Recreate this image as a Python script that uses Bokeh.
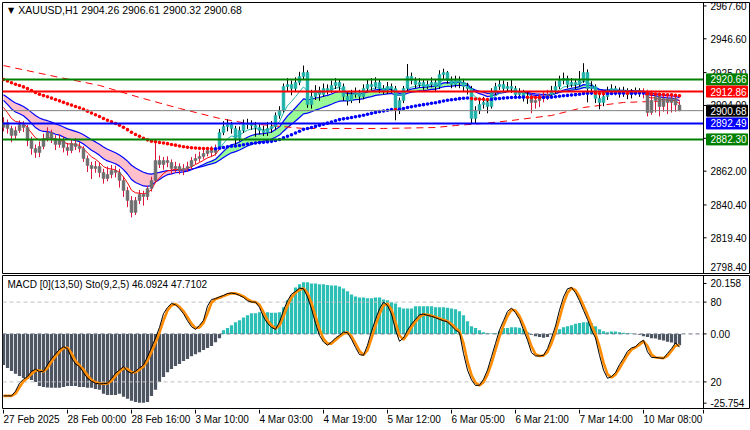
from bokeh.plotting import figure
from bokeh.models import Range1d, Span, ColumnDataSource
from bokeh.core.properties import value
from bokeh.layouts import column
from bokeh.embed import file_html
from bokeh.resources import INLINE

SYMBOL = "XAUUSD,H1"
OPEN_FIRST = 2890.0
CLOSE = [
    2893.1, 2889.3, 2884.8, 2888.0, 2891.8, 2889.9, 2881.6, 2876.5, 2873.9, 2877.8,
    2882.9, 2886.7, 2882.9, 2879.1, 2881.6, 2877.1, 2875.2, 2879.7, 2877.8, 2876.5,
    2870.1, 2865.6, 2863.7, 2865.0, 2861.2, 2857.3, 2859.9, 2862.4, 2861.2, 2856.1,
    2849.7, 2843.3, 2835.6, 2843.3, 2847.1, 2845.8, 2850.9, 2856.1, 2868.8, 2866.3,
    2868.8, 2867.6, 2863.7, 2865.0, 2862.4, 2863.7, 2865.0, 2868.8, 2870.1, 2871.4,
    2873.3, 2875.2, 2873.9, 2876.5, 2886.7, 2890.6, 2891.8, 2889.3, 2882.9, 2888.0,
    2891.8, 2892.5, 2891.2, 2889.9, 2888.0, 2886.7, 2889.3, 2890.6, 2897.6, 2900.8,
    2916.1, 2917.4, 2914.8, 2918.7, 2922.5, 2925.1, 2904.6, 2909.7, 2913.6, 2911.0,
    2914.8, 2913.6, 2916.8, 2918.7, 2916.1, 2909.7, 2907.2, 2911.0, 2912.3, 2909.7,
    2914.8, 2917.4, 2916.1, 2918.7, 2914.8, 2913.6, 2916.1, 2914.8, 2900.8, 2907.2,
    2914.8, 2922.5, 2920.0, 2917.4, 2918.7, 2916.1, 2917.4, 2918.7, 2916.1, 2923.8,
    2925.1, 2920.0, 2917.4, 2920.0, 2918.7, 2916.1, 2914.8, 2895.7, 2900.8, 2904.6,
    2905.9, 2903.3, 2912.3, 2916.1, 2917.4, 2914.8, 2916.1, 2914.8, 2911.0, 2912.3,
    2909.7, 2908.5, 2905.9, 2907.2, 2908.5, 2909.7, 2911.0, 2913.6, 2916.1, 2920.0,
    2921.2, 2917.4, 2918.7, 2917.4, 2920.0, 2925.1, 2914.8, 2916.1, 2908.5, 2905.9,
    2909.7, 2913.6, 2914.8, 2913.6, 2912.3, 2913.6, 2911.0, 2912.3, 2913.6, 2912.3,
    2912.3, 2899.5, 2907.2, 2909.7, 2903.3, 2908.5, 2905.9, 2908.5, 2904.26, 2900.68,
]
HIGH = [
    2896.5, 2895.0, 2891.0, 2890.5, 2894.5, 2894.0, 2891.5, 2884.0, 2879.0, 2881.0,
    2886.0, 2890.0, 2888.5, 2885.0, 2885.5, 2884.0, 2880.0, 2882.5, 2883.0, 2880.5,
    2878.0, 2872.0, 2868.0, 2868.5, 2867.5, 2863.5, 2865.0, 2866.0, 2865.5, 2863.5,
    2858.5, 2852.0, 2846.0, 2845.5, 2850.0, 2849.5, 2852.5, 2858.5, 2880.0, 2872.0,
    2871.0, 2871.5, 2869.5, 2868.0, 2867.0, 2866.5, 2868.0, 2871.0, 2873.0, 2874.5,
    2876.0, 2877.5, 2878.0, 2879.0, 2889.0, 2894.0, 2895.0, 2893.5, 2891.0, 2890.5,
    2895.0, 2895.5, 2894.5, 2893.5, 2892.0, 2891.0, 2893.5, 2894.0, 2899.5, 2903.5,
    2918.0, 2921.5, 2920.0, 2922.0, 2925.5, 2929.5, 2926.5, 2914.0, 2917.0, 2916.0,
    2918.0, 2917.5, 2920.0, 2921.5, 2920.5, 2918.0, 2912.5, 2914.0, 2915.5, 2914.0,
    2917.5, 2920.5, 2921.5, 2922.0, 2920.5, 2917.0, 2919.0, 2918.0, 2916.5, 2909.0,
    2916.5, 2930.5, 2925.0, 2922.0, 2921.5, 2920.5, 2920.0, 2922.0, 2921.0, 2926.5,
    2927.5, 2926.0, 2922.5, 2923.0, 2922.5, 2921.0, 2918.5, 2916.5, 2903.5, 2907.5,
    2909.5, 2908.5, 2915.0, 2918.5, 2920.5, 2920.0, 2919.0, 2920.5, 2916.5, 2915.0,
    2914.0, 2912.5, 2911.0, 2910.0, 2911.5, 2912.5, 2914.0, 2916.5, 2919.5, 2923.0,
    2925.0, 2923.0, 2921.5, 2921.0, 2926.0, 2931.0, 2927.0, 2919.5, 2917.5, 2911.0,
    2912.5, 2916.0, 2917.5, 2916.5, 2915.5, 2916.0, 2915.0, 2914.5, 2915.5, 2915.0,
    2915.0, 2914.0, 2913.5, 2912.0, 2911.0, 2911.5, 2910.5, 2910.5, 2910.5, 2906.61,
]
LOW = [
    2887.5, 2886.0, 2880.5, 2882.0, 2886.5, 2887.0, 2878.0, 2872.5, 2870.5, 2871.0,
    2876.0, 2881.0, 2880.0, 2875.5, 2877.0, 2874.0, 2872.0, 2873.5, 2875.5, 2874.0,
    2868.0, 2861.5, 2857.0, 2861.0, 2858.0, 2854.0, 2855.5, 2857.5, 2858.0, 2851.5,
    2845.5, 2839.0, 2832.5, 2834.0, 2841.0, 2840.0, 2843.5, 2849.0, 2855.0, 2864.0,
    2863.0, 2864.5, 2860.0, 2861.0, 2860.0, 2859.5, 2861.5, 2863.0, 2866.5, 2868.0,
    2869.5, 2871.5, 2871.0, 2872.0, 2875.5, 2885.0, 2887.5, 2886.0, 2878.5, 2881.0,
    2886.5, 2889.0, 2888.5, 2884.0, 2885.5, 2884.5, 2884.5, 2886.5, 2888.5, 2895.5,
    2899.5, 2913.0, 2910.5, 2912.5, 2917.0, 2920.5, 2902.5, 2902.0, 2907.5, 2907.0,
    2909.5, 2911.0, 2912.0, 2914.5, 2913.5, 2907.0, 2904.0, 2905.5, 2909.0, 2905.5,
    2908.0, 2912.5, 2913.5, 2914.5, 2912.0, 2911.0, 2911.5, 2912.0, 2894.5, 2898.5,
    2905.5, 2913.5, 2917.5, 2915.0, 2915.5, 2914.0, 2914.5, 2915.5, 2913.0, 2914.5,
    2921.0, 2918.0, 2915.0, 2915.5, 2915.0, 2912.5, 2911.0, 2892.0, 2892.5, 2898.5,
    2902.0, 2899.0, 2902.0, 2910.5, 2914.0, 2912.5, 2913.0, 2912.0, 2908.5, 2909.0,
    2906.5, 2905.0, 2899.0, 2902.0, 2903.0, 2906.0, 2907.5, 2909.5, 2911.5, 2914.5,
    2917.5, 2915.0, 2915.5, 2914.5, 2916.0, 2918.5, 2906.0, 2911.0, 2905.5, 2901.5,
    2903.5, 2907.5, 2911.0, 2910.5, 2909.0, 2909.5, 2908.0, 2908.5, 2910.5, 2909.5,
    2908.5, 2897.0, 2898.0, 2899.5, 2897.0, 2900.0, 2898.5, 2899.5, 2900.0, 2900.32,
]
# trend colouring of candles (bar index where a trend starts)
TREND_SEGMENTS = [(0, "down"), (54, "up"), (132, "down"), (137, "up"), (160, "down")]

# indicator settings and their values read at the first bar
BAND_FAST_PERIOD, BAND_FAST_START = 13, 2907.2
BAND_SLOW_PERIOD, BAND_SLOW_START = 24, 2910.8
THIN_PERIOD, THIN_START = 7, 2902.7
DOTS_PERIOD, DOTS_START = 62, 2920.6

# long dashed moving average (bar, price)
LONG_MA_BARS = [0, 14, 24, 34, 44, 54, 61, 75, 95, 108, 113, 120, 127, 137, 145, 155, 169]
LONG_MA_VALUES = [2929.5, 2921.9, 2916.8, 2909.1, 2902.1, 2895.7, 2892.5, 2889.3, 2889.3,
                  2889.9, 2891.2, 2892.5, 2894.4, 2897.6, 2902.7, 2905.9, 2907.2]

LEVELS = [2920.66, 2912.86, 2892.49, 2882.30]
LEVEL_COLORS = ["#008000", "#FF0000", "#0000FF", "#008000"]
BID = 2900.68
PRICE_TICKS = [2967.6, 2946.6, 2925.0, 2904.0, 2883.0, 2862.0, 2840.4, 2819.4]
PRICE_TICK_BOTTOM = 2798.4

MACD_HIST = [
    -10.7, -11.8, -12.8, -13.8, -14.5, -15.2, -15.6, -15.9, -16.6, -18.0,
    -18.3, -18.5, -18.6, -18.6, -18.6, -18.3, -18.0, -18.0, -18.0, -18.3,
    -18.3, -18.6, -18.6, -19.0, -19.3, -20.7, -21.1, -21.1, -21.1, -20.7,
    -21.7, -22.4, -23.1, -23.5, -23.8, -23.8, -23.5, -21.4, -19.3, -16.6,
    -14.9, -13.2, -12.1, -11.1, -10.4, -9.4, -8.7, -7.7, -7.0, -6.3,
    -5.6, -4.9, -4.2, -2.9, -1.5, 1.3, 2.0, 3.0, 4.0, 4.7,
    5.7, 6.4, 7.1, 7.1, 7.5, 7.1, 7.5, 7.3, 7.3, 7.5,
    9.2, 11.6, 13.3, 16.0, 17.1, 17.8, 17.8, 17.4, 17.4, 17.1,
    17.1, 16.9, 16.7, 16.7, 16.4, 15.7, 14.7, 13.6, 12.9, 12.6,
    12.6, 12.3, 12.3, 12.6, 12.6, 11.9, 11.6, 10.9, 10.5, 9.2,
    8.8, 8.8, 8.8, 9.5, 9.5, 9.5, 9.5, 9.5, 9.2, 9.2,
    9.2, 9.0, 8.8, 8.5, 7.8, 6.4, 4.4, 2.6, 2.0, 1.3,
    0.6, 0.2, 0.1, 0.2, 0.9, 2.0, 2.0, 2.3, 2.3, 2.1,
    1.6, 0.6, -0.3, -0.8, -1.1, -1.3, -1.1, -0.1, 0.9, 1.6,
    2.3, 2.6, 3.0, 3.5, 3.8, 4.0, 4.0, 3.7, 2.6, 1.6,
    0.9, 0.6, 0.8, 0.8, 0.6, 0.4, 0.2, 0.1, -0.1, -0.3,
    -0.8, -1.1, -1.5, -1.6, -2.0, -2.3, -2.7, -3.0, -3.5, -3.9,
]
MACD_MAX, MACD_MIN = 20.158, -25.754
STOCH_MAIN = [
    9.5, 9.5, 9.5, 13, 19, 22, 24, 28, 29.5, 27.7,
    28, 33, 37.5, 41, 44.5, 46.4, 45, 38, 33.5, 31.5,
    27, 22.7, 20.5, 19, 18.5, 18.7, 19, 22.5, 26.5, 29,
    31.5, 28, 26.5, 28, 30.5, 32.7, 39, 46, 53, 61,
    71.3, 76, 79, 78, 75, 71.3, 66, 61.5, 59.5, 62.5,
    66.3, 77, 82, 82.6, 84, 85, 86.5, 86.8, 86.3, 85,
    83.5, 81, 80, 80, 76, 68.8, 64, 61, 59.5, 65,
    73.8, 81, 86, 88, 90.5, 90, 83.8, 75, 64, 55,
    50, 47.6, 50, 53, 55, 57.5, 57, 52, 46, 40.5,
    40, 47.6, 58, 67, 75, 80, 77.5, 71, 59, 50.5,
    53, 58.9, 63.5, 67, 70.5, 71, 70, 69.3, 68.3, 67,
    66, 65.1, 62, 59, 57, 41.4, 28.9, 21.5, 17.3, 17.5,
    22, 28.9, 39, 49, 59, 66, 73, 75.5, 72, 67,
    59, 51.4, 42, 39.5, 39.5, 40, 45, 53, 62, 74,
    83.8, 90, 91, 87, 81, 73.8, 67, 59, 53, 40,
    28.9, 22.7, 24, 27, 33, 37.7, 43, 45.5, 46.5, 49.5,
    51.4, 42.6, 38.4, 38.4, 38, 37.7, 41.4, 45, 49.328, 46.0924,
]
STOCH_SIGNAL_PERIOD = 2
STOCH_LEVELS = [80, 20]
X_TICK_BARS = [0, 16, 32, 48, 64, 80, 96, 112, 128, 144, 160]
X_TICK_LABELS = ["27 Feb 2025", "28 Feb 00:00", "28 Feb 16:00", "3 Mar 10:00", "4 Mar 03:00",
                 "4 Mar 19:00", "5 Mar 12:00", "6 Mar 05:00", "6 Mar 21:00", "7 Mar 14:00",
                 "10 Mar 08:00"]

# ---------------------------------------------------------------- derived
N = len(CLOSE)
X = list(range(N))
OPEN = [OPEN_FIRST] + CLOSE[:-1]


def ema(vals, period, start):
    a = 2.0 / (period + 1)
    out = [start]
    for v in vals[1:]:
        out.append(out[-1] + a * (v - out[-1]))
    return out


def runs(flags):
    out, s = [], 0
    for i in range(1, len(flags) + 1):
        if i == len(flags) or flags[i] != flags[s]:
            out.append((s, i - 1, flags[s]))
            s = i
    return out


trend = []
for i in range(N):
    t = None
    for start, name in TREND_SEGMENTS:
        if i >= start:
            t = name
    trend.append(t)
tr_up = [t == "up" for t in trend]

fast = ema(CLOSE, BAND_FAST_PERIOD, BAND_FAST_START)
slow = ema(CLOSE, BAND_SLOW_PERIOD, BAND_SLOW_START)
thin = ema(CLOSE, THIN_PERIOD, THIN_START)
dots = ema(CLOSE, DOTS_PERIOD, DOTS_START)
signal = []
for i in range(N):
    win = STOCH_MAIN[max(0, i - STOCH_SIGNAL_PERIOD + 1):i + 1]
    signal.append(sum(win) / len(win))

FONT = value("Liberation Sans")
FS = value("10px")
# bar pitch is 4 px; bar 0 sits 1 px right of the frame edge
X_START = -0.25
AXIS_X = 175.0          # where the price scale starts (in bar units)
FULL_END = 186.75       # right edge of the window (in bar units)


def make_fig(height, y_range, top, bottom, outline="black"):
    f = figure(width=750, height=height, x_range=Range1d(X_START, FULL_END), y_range=y_range,
               output_backend="svg", toolbar_location=None, x_axis_location=None,
               y_axis_location=None, min_border_left=2, min_border_right=0,
               min_border_top=top, min_border_bottom=bottom, background_fill_color="white",
               border_fill_color="white", outline_line_color=outline, outline_line_width=1)
    f.grid.visible = False
    return f


def scale(f, ticks, labels, range_name="default"):
    f.add_layout(Span(location=AXIS_X, dimension="height", line_color="black", line_width=1))
    f.segment(x0=[AXIS_X] * len(ticks), y0=ticks, x1=[AXIS_X + 0.75] * len(ticks), y1=ticks,
              line_color="black", y_range_name=range_name)
    f.text(x=[AXIS_X + 1.75] * len(ticks), y=ticks, text=labels, text_font_size=FS,
           text_font=FONT, text_baseline="middle", text_align="left", text_color="black",
           y_range_name=range_name)


# ---------------------------------------------------------------- main pane
p1 = make_fig(274, Range1d(2796.6, 2969.8), 2, 1)

# band fill
for s, e, up in runs([f >= sl for f, sl in zip(fast, slow)]):
    e2 = min(e + 1, N - 1)
    p1.varea(x=X[s:e2 + 1], y1=fast[s:e2 + 1], y2=slow[s:e2 + 1],
             fill_color="#98FB98" if up else "#FFC0CB")
p1.line(X, fast, line_color="#0000FF", line_width=1.2)
p1.line(X, slow, line_color="#0000FF", line_width=1.2)

# long dashed MA
p1.line(LONG_MA_BARS, LONG_MA_VALUES, line_color="#FF0000", line_width=1, line_dash="7 5")

# thin MA coloured by trend
for s, e, up in runs(tr_up):
    e2 = min(e + 1, N - 1)
    p1.line(X[s:e2 + 1], thin[s:e2 + 1], line_color="#20B2AA" if up else "#FF0000",
            line_width=1)

# candles
src = ColumnDataSource(dict(x=X, high=HIGH, low=LOW,
                            top=[max(o, c) for o, c in zip(OPEN, CLOSE)],
                            bottom=[min(o, c) for o, c in zip(OPEN, CLOSE)],
                            body=["#20B2AA" if u else "#6E6E6E" for u in tr_up],
                            wick=["#000000" if u else "#DC143C" for u in tr_up]))
p1.segment(x0="x", y0="low", x1="x", y1="high", line_color="wick", line_width=1, source=src)
p1.vbar(x="x", width=0.72, top="top", bottom="bottom", fill_color="body",
        line_color="body", line_width=0.5, source=src)

# dotted trend line
dot_col = ["#FF0000" if (i == 0 or dots[i] < dots[i - 1]) else "#0000FF" for i in range(N)]
p1.scatter(X, dots, marker="circle", size=3.6, fill_color=dot_col, line_color=None)

# bid + levels (stop at the price scale)
p1.segment(x0=[X_START], y0=[BID], x1=[AXIS_X], y1=[BID], line_color="#808080", line_width=1)
p1.segment(x0=[X_START] * len(LEVELS), y0=LEVELS, x1=[AXIS_X] * len(LEVELS), y1=LEVELS,
           line_color=LEVEL_COLORS, line_width=2)

# price scale
scale(p1, PRICE_TICKS, [f"{t:.2f}" for t in PRICE_TICKS])
p1.text(x=[AXIS_X + 1.75], y=[PRICE_TICK_BOTTOM], text=[f"{PRICE_TICK_BOTTOM:.2f}"],
        text_font_size=FS, text_font=FONT, text_baseline="bottom", text_align="left",
        text_color="black")

# price tags on the scale
tag_vals = LEVELS + [BID]
tag_cols = LEVEL_COLORS + ["#000000"]
p1.rect(x=[(AXIS_X + FULL_END) / 2] * len(tag_vals), y=tag_vals,
        width=FULL_END - AXIS_X - 1.5, height=11, height_units="screen",
        fill_color=tag_cols, line_color=tag_cols)
p1.text(x=[AXIS_X + 1.75] * len(tag_vals), y=tag_vals, text=[f"{v:.2f}" for v in tag_vals],
        text_font_size=FS, text_font=FONT, text_baseline="middle", text_align="left",
        text_color="white")

# header
p1.text(x=[1.1], y=[2964.9], text=["\u25BC"], text_font=value("DejaVu Sans"),
        text_font_size=value("8px"), text_baseline="middle", text_color="black")
p1.text(x=[3.7], y=[2964.7],
        text=[f"{SYMBOL}  {OPEN[-1]:.2f} {HIGH[-1]:.2f} {LOW[-1]:.2f} {CLOSE[-1]:.2f}"],
        text_font=FONT, text_font_size=value("10.5px"), text_baseline="middle",
        text_color="black")

# ---------------------------------------------------------------- lower pane
p2 = make_fig(135, Range1d(0, 100), 1, 1)
p2.extra_y_ranges = {"macd": Range1d(MACD_MIN, MACD_MAX)}

hist_col = ["#2CBFB5" if v >= 0 else "#4D5562" for v in MACD_HIST]
p2.vbar(x=X, width=0.8, top=MACD_HIST, bottom=0, fill_color=hist_col, line_color=None,
        y_range_name="macd")
p2.segment(x0=[X_START] * 2, y0=STOCH_LEVELS, x1=[AXIS_X] * 2, y1=STOCH_LEVELS,
           line_color="#C0C0C0", line_width=1, line_dash="4 3")
p2.segment(x0=[X_START], y0=[0], x1=[AXIS_X], y1=[0], line_color="#6B7785", line_width=1,
           line_dash="4 3", y_range_name="macd")
p2.line(X, signal, line_color="#FF8C00", line_width=2.6)
p2.line(X, STOCH_MAIN, line_color="#000000", line_width=1)
p2.text(x=[1.0], y=[93.0],
        text=[f"MACD [0](13,50)  Sto(9,2,5) {STOCH_MAIN[-1]:.4f} {signal[-1]:.4f}"],
        text_font=FONT, text_font_size=FS, text_baseline="middle", text_color="black")

# scale of the lower pane: MACD extremes near the edges, stochastic levels, MACD zero
zero_pos = (0 - MACD_MIN) / (MACD_MAX - MACD_MIN) * 100
top_pos, bot_pos = 94.0, 4.0
scale(p2, [top_pos, STOCH_LEVELS[0], zero_pos, STOCH_LEVELS[1], bot_pos],
      [f"{MACD_MAX:.3f}", f"{STOCH_LEVELS[0]}", "0.00", f"{STOCH_LEVELS[1]}", f"{MACD_MIN:.3f}"])

# ---------------------------------------------------------------- time scale
p3 = make_fig(21, Range1d(0, 21), 0, 0, outline=None)
p3.segment(x0=X_TICK_BARS, y0=[21] * len(X_TICK_BARS), x1=X_TICK_BARS,
           y1=[17] * len(X_TICK_BARS), line_color="black")
p3.segment(x0=[AXIS_X], y0=[21], x1=[AXIS_X], y1=[17], line_color="black")
p3.text(x=X_TICK_BARS, y=[11.5] * len(X_TICK_BARS), text=X_TICK_LABELS, text_font=FONT,
        text_font_size=FS, text_baseline="middle", text_align="left", text_color="black")

layout = column(p1, p2, p3)
open("out.html", "w").write(file_html(layout, INLINE))
